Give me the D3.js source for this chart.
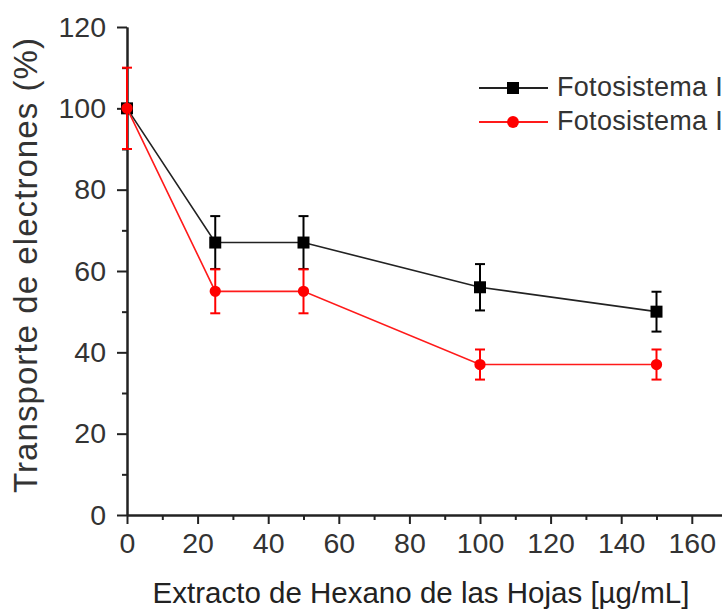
<!DOCTYPE html>
<html>
<head>
<meta charset="utf-8">
<script src="https://cdn.jsdelivr.net/npm/d3@7"></script>
<style>
  html, body { margin: 0; padding: 0; background: #fff; }
  svg { display: block; font-family: "Liberation Sans", Arial, sans-serif; }
</style>
</head>
<body>
<svg id="chart" width="722" height="610"></svg>
<script>
// Concentrations of leaf hexane extract (µg/mL)
const concentrations = [0, 25, 50, 100, 150];

// Electron transport (% of control) with standard error
const psIValues = [100, 67, 67, 56, 50];
const psIErrors = [0, 6.5, 6.5, 5.7, 4.9];
const psIIValues = [100, 55, 55, 37, 37];
const psIIErrors = [10, 5.4, 5.4, 3.7, 3.7];

const xTicks = [0, 20, 40, 60, 80, 100, 120, 140, 160];
const yTicks = [0, 20, 40, 60, 80, 100, 120];
const seriesNames = ["Fotosistema I", "Fotosistema II"];

const svg = d3.select("#chart");

const x = d3.scaleLinear().domain([0, 170]).range([127, 127 + 170 * 3.53]);
const y = d3.scaleLinear().domain([0, 120]).range([515, 27]);

const axisColor = "#222";
const labelColor = "#333";

// ---- axes ----
const yAxis = svg.append("g").attr("transform", `translate(${x(0)},0)`);
yAxis.call(d3.axisLeft(y).tickValues(yTicks).tickSize(10).tickPadding(11).tickSizeOuter(0));
const yMinor = svg.append("g").attr("transform", `translate(${x(0)},0)`);
yMinor.call(d3.axisLeft(y).tickValues(d3.range(10, 120, 20)).tickSize(5).tickFormat("").tickSizeOuter(0));

const xAxis = svg.append("g").attr("transform", `translate(0,${y(0)})`);
xAxis.call(d3.axisBottom(x).tickValues(xTicks).tickSize(9).tickPadding(9).tickSizeOuter(0));
const xMinor = svg.append("g").attr("transform", `translate(0,${y(0)})`);
xMinor.call(d3.axisBottom(x).tickValues(d3.range(10, 170, 20)).tickSize(5).tickFormat("").tickSizeOuter(0));

svg.selectAll(".domain").attr("stroke", axisColor).attr("stroke-width", 2);
svg.selectAll(".tick line").attr("stroke", axisColor).attr("stroke-width", 2);
svg.selectAll(".tick text")
  .attr("font-size", 28.5)
  .attr("fill", labelColor)
  .attr("font-family", "Liberation Sans, Arial, sans-serif");
xAxis.selectAll(".tick text").attr("dy", "0.71em");

// ---- axis titles ----
svg.append("text")
  .attr("x", 421).attr("y", 603)
  .attr("text-anchor", "middle")
  .attr("font-size", 29.5)
  .attr("fill", "#222")
  .text("Extracto de Hexano de las Hojas [µg/mL]");

svg.append("text")
  .attr("transform", "translate(37,265.5) rotate(-90)")
  .attr("text-anchor", "middle")
  .attr("font-size", 33)
  .attr("fill", labelColor)
  .attr("textLength", 455)
  .attr("lengthAdjust", "spacing")
  .text("Transporte de electrones (%)");

// ---- series ----
function drawSeries(values, errors, color, lineColor, shape) {
  const pts = concentrations.map((c, i) => ({ c, v: values[i], e: errors[i] }));
  const g = svg.append("g");
  g.append("path")
    .datum(pts)
    .attr("fill", "none")
    .attr("stroke", lineColor)
    .attr("stroke-width", 1.6)
    .attr("d", d3.line().x(d => x(d.c)).y(d => y(d.v)));

  const eb = g.selectAll(".eb").data(pts.filter(d => d.e > 0)).join("g")
    .attr("stroke", color).attr("stroke-width", 2);
  eb.append("line")
    .attr("x1", d => x(d.c)).attr("x2", d => x(d.c))
    .attr("y1", d => y(d.v + d.e)).attr("y2", d => y(d.v - d.e));
  eb.append("line")
    .attr("x1", d => x(d.c) - 5).attr("x2", d => x(d.c) + 5)
    .attr("y1", d => y(d.v + d.e)).attr("y2", d => y(d.v + d.e));
  eb.append("line")
    .attr("x1", d => x(d.c) - 5).attr("x2", d => x(d.c) + 5)
    .attr("y1", d => y(d.v - d.e)).attr("y2", d => y(d.v - d.e));

  g.selectAll(".pt").data(pts).join("path")
    .attr("transform", d => `translate(${x(d.c)},${y(d.v)})`)
    .attr("fill", color)
    .attr("d", d3.symbol().type(shape).size(shape === d3.symbolSquare ? 144 : 100));
}

drawSeries(psIValues, psIErrors, "#000", "#222", d3.symbolSquare);
drawSeries(psIIValues, psIIErrors, "#ff0000", "#ff1a1a", d3.symbolCircle);

// ---- legend ----
const legend = svg.append("g");
const legendItems = [
  { name: seriesNames[0], color: "#000", line: "#222", shape: d3.symbolSquare, size: 144 },
  { name: seriesNames[1], color: "#ff0000", line: "#ff1a1a", shape: d3.symbolCircle, size: 110 }
];
legendItems.forEach((it, i) => {
  const ly = 88 + i * 34;
  legend.append("line")
    .attr("x1", 479).attr("x2", 548).attr("y1", ly).attr("y2", ly)
    .attr("stroke", it.line).attr("stroke-width", 2);
  legend.append("path")
    .attr("transform", `translate(513,${ly})`)
    .attr("fill", it.color)
    .attr("d", d3.symbol().type(it.shape).size(it.size));
  legend.append("text")
    .attr("x", 557).attr("y", ly + 8)
    .attr("font-size", 27)
    .attr("fill", labelColor)
    .attr("letter-spacing", 0.3)
    .text(it.name);
});
</script>
</body>
</html>
